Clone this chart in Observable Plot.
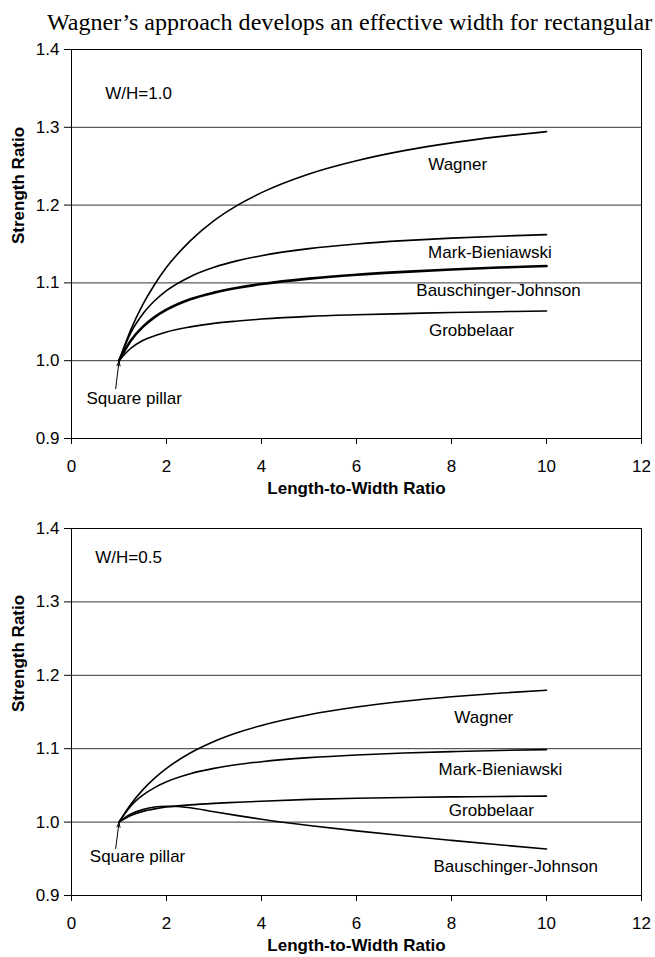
<!DOCTYPE html>
<html>
<head>
<meta charset="utf-8">
<script src="https://cdn.jsdelivr.net/npm/d3@7"></script>
<script src="https://cdn.jsdelivr.net/npm/@observablehq/plot@0.6"></script>
<style>
  html, body { margin: 0; padding: 0; background: white; }
  body { width: 655px; height: 957px; overflow: hidden; position: relative; }
  #header { position: absolute; left: 47px; top: 9px; z-index: 5; font-family: "Liberation Serif", "Times New Roman", serif; font-size: 24.1px; line-height: 1.1; white-space: nowrap; color: black; }
  #top, #bottom { position: absolute; left: 0; }
  #top { top: 30px; }
  #bottom { top: 505px; }
</style>
</head>
<body>
<div id="header">Wagner’s approach develops an effective width for rectangular</div>
<div id="top"></div>
<div id="bottom"></div>
<script>
// Length-to-width ratio sample points
const lw = [1, 1.25, 1.5, 1.75, 2, 2.5, 3, 3.5, 4, 5, 6, 7, 8, 9, 10];

// W/H = 1.0
const wagner10 = [1.0, 1.040, 1.072, 1.098, 1.120, 1.154, 1.180, 1.200, 1.216, 1.240, 1.257, 1.270, 1.280, 1.288, 1.2945];
const mark10   = [1.0, 1.036, 1.060, 1.077, 1.090, 1.108, 1.120, 1.1286, 1.135, 1.144, 1.150, 1.1543, 1.1575, 1.160, 1.162];
const bausch10 = [1.0, 1.026, 1.0435, 1.056, 1.0655, 1.079, 1.0875, 1.0937, 1.0985, 1.1055, 1.1105, 1.1142, 1.1172, 1.1197, 1.1217];
const grob10   = [1.0, 1.016, 1.026, 1.032, 1.037, 1.0435, 1.048, 1.051, 1.0535, 1.057, 1.059, 1.0605, 1.062, 1.063, 1.0638];

// W/H = 0.5
const wagner05 = [1.0, 1.0244, 1.0439, 1.0599, 1.0732, 1.0941, 1.1098, 1.1220, 1.1317, 1.1463, 1.1568, 1.1646, 1.1707, 1.1756, 1.1796];
const mark05   = [1.0, 1.022, 1.0366, 1.047, 1.0549, 1.0659, 1.0732, 1.0784, 1.0823, 1.0878, 1.0915, 1.0941, 1.096, 1.0976, 1.0988];
const grob05   = [1.0, 1.009, 1.0145, 1.018, 1.0205, 1.0235, 1.0255, 1.027, 1.0285, 1.031, 1.0325, 1.0335, 1.0343, 1.0349, 1.0354];
const bausch05 = [1.0, 1.011, 1.017, 1.0205, 1.0215, 1.0195, 1.014, 1.0088, 1.0039, 0.9954, 0.988, 0.9813, 0.9751, 0.9691, 0.9633];

const xTicks = [0, 2, 4, 6, 8, 10, 12];
const yTicks = [0.9, 1.0, 1.1, 1.2, 1.3, 1.4];
const gridTicks = [1.0, 1.1, 1.2, 1.3];

// annotations (data coordinates)
const labels10 = [
  {text: "Wagner", x: 8.13, y: 1.252},
  {text: "Mark-Bieniawski", x: 8.81, y: 1.139},
  {text: "Bauschinger-Johnson", x: 8.99, y: 1.0908},
  {text: "Grobbelaar", x: 8.42, y: 1.0386},
  {text: "Square pillar", x: 1.32, y: 0.951}
];
const labels05 = [
  {text: "Wagner", x: 8.68, y: 1.142},
  {text: "Mark-Bieniawski", x: 9.03, y: 1.0718},
  {text: "Grobbelaar", x: 8.84, y: 1.0154},
  {text: "Bauschinger-Johnson", x: 9.35, y: 0.940},
  {text: "Square pillar", x: 1.39, y: 0.953}
];

function toRows(vals) { return lw.map((x, i) => ({x, y: vals[i]})); }

function chart({series, labels, panel, height, marginTop, marginBottom}) {
  const marks = [
    Plot.gridY(gridTicks, {stroke: "#333", strokeOpacity: 1, strokeWidth: 1}),
    Plot.frame({stroke: "black", strokeWidth: 1}),
    Plot.axisY(yTicks, {tickFormat: d3.format(".1f"), tickSize: 7, tickPadding: 5, label: null, stroke: "black"}),
    Plot.axisX(xTicks, {tickFormat: d3.format("d"), tickSize: 6, tickPadding: 15, label: null, stroke: "black"}),
    Plot.text(["Strength Ratio"], {frameAnchor: "left", dx: -53, rotate: -90, fontWeight: "bold", text: d => d}),
    Plot.text(["Length-to-Width Ratio"], {frameAnchor: "bottom", dy: 55, fontWeight: "bold", text: d => d}),
    Plot.text([panel], {text: "text", x: "x", y: "y", textAnchor: "start"}),
  ];
  for (const s of series) {
    marks.push(Plot.line(toRows(s.values), {x: "x", y: "y", curve: "monotone-x", stroke: "black", strokeWidth: s.w}));
  }
  marks.push(Plot.text(labels, {x: "x", y: "y", text: "text", textAnchor: "middle", fill: "black"}));
  marks.push(Plot.arrow([{x1: 0.93, y1: 0.964, x2: 1.0, y2: 0.999}], {x1: "x1", y1: "y1", x2: "x2", y2: "y2", stroke: "black", strokeWidth: 1, headLength: 7, headAngle: 40}));
  return Plot.plot({
    width: 655, height, marginLeft: 71, marginRight: 14, marginTop, marginBottom,
    x: {domain: [0, 12]},
    y: {domain: [0.9, 1.4]},
    style: {fontFamily: "'Liberation Sans', Arial, sans-serif", fontSize: "17px", background: "transparent", color: "black", overflow: "visible"},
    marks
  });
}

document.getElementById("top").append(chart({
  series: [{values: wagner10, w: 1.6}, {values: mark10, w: 1.6}, {values: bausch10, w: 2.6}, {values: grob10, w: 1.6}],
  labels: labels10,
  panel: {text: "W/H=1.0", x: 0.71, y: 1.343},
  height: 475, marginTop: 19, marginBottom: 67
}));

document.getElementById("bottom").append(chart({
  series: [{values: wagner05, w: 1.6}, {values: mark05, w: 1.6}, {values: grob05, w: 1.6}, {values: bausch05, w: 1.6}],
  labels: labels05,
  panel: {text: "W/H=0.5", x: 0.50, y: 1.3606},
  height: 452, marginTop: 23, marginBottom: 62
}));
</script>
</body>
</html>
